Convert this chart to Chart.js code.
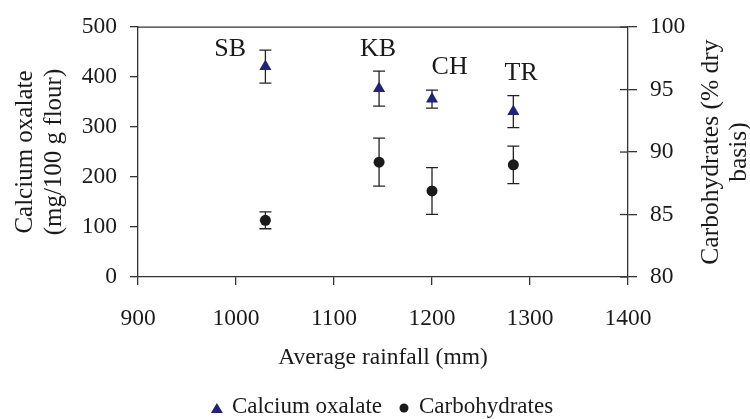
<!DOCTYPE html>
<html><head><meta charset="utf-8">
<script src="https://cdn.jsdelivr.net/npm/chart.js@4.4.1/dist/chart.umd.min.js"></script>
<style>html,body{margin:0;padding:0;background:#fff;}canvas{display:block;}</style>
</head><body>
<canvas id="c" width="750" height="419"></canvas>
<script>
// ---- data ----
const sites = ['SB', 'KB', 'CH', 'TR'];
const rainfall = [1030, 1146, 1200, 1283];
const oxalate = [421, 377, 356, 331];
const oxalateErr = [33, 35, 18, 32];
const carbs = [84.54, 89.19, 86.89, 88.98];
const carbsErr = [0.68, 1.92, 1.87, 1.5];
// site label anchors (data units: rainfall, left axis value)
const labelX = [994, 1145, 1218, 1291];
const labelY = [443, 442, 406, 394];
const seriesNames = ['Calcium oxalate', 'Carbohydrates'];
const xTitle = 'Average rainfall (mm)';
const leftTitle = ['Calcium oxalate', '(mg/100 g flour)'];
const rightTitle = ['Carbohydrates (% dry', 'basis)'];

const FONT = "'Liberation Serif', 'Times New Roman', serif";
const TXT = '#1a1a1a';
const AX = '#333333';
const NAVY = '#22227a';
const BLACK = '#1a1a1a';

const extras = {
  id: 'extras',
  beforeDatasetsDraw(chart) {
    const ctx = chart.ctx, xs = chart.scales.x, yl = chart.scales.y, yr = chart.scales.y1;
    ctx.save();
    ctx.strokeStyle = '#222';
    ctx.lineWidth = 1.3;
    const bar = (px, v, e, sc) => {
      const t = sc.getPixelForValue(v + e), b = sc.getPixelForValue(v - e);
      ctx.beginPath();
      ctx.moveTo(px, t); ctx.lineTo(px, b);
      ctx.moveTo(px - 6, t); ctx.lineTo(px + 6, t);
      ctx.moveTo(px - 6, b); ctx.lineTo(px + 6, b);
      ctx.stroke();
    };
    rainfall.forEach((r, i) => {
      const px = xs.getPixelForValue(r);
      bar(px, oxalate[i], oxalateErr[i], yl);
      bar(px, carbs[i], carbsErr[i], yr);
    });
    ctx.restore();
  },
  afterDraw(chart) {
    const ctx = chart.ctx, a = chart.chartArea, xs = chart.scales.x, yl = chart.scales.y, yr = chart.scales.y1;
    ctx.save();
    // top frame line
    ctx.strokeStyle = AX; ctx.lineWidth = 1.3;
    ctx.beginPath(); ctx.moveTo(a.left, a.top); ctx.lineTo(a.right, a.top); ctx.stroke();
    // inner ticks on right axis
    yr.ticks.forEach(t => {
      const py = yr.getPixelForValue(t.value);
      ctx.beginPath(); ctx.moveTo(a.right - 8, py); ctx.lineTo(a.right, py); ctx.stroke();
    });
    // site labels
    ctx.fillStyle = TXT;
    ctx.font = "26px " + FONT;
    ctx.textAlign = 'center'; ctx.textBaseline = 'alphabetic';
    sites.forEach((s, i) => {
      ctx.fillText(s, xs.getPixelForValue(labelX[i]), yl.getPixelForValue(labelY[i]));
    });
    // right axis title (reads bottom to top)
    ctx.font = "25.5px " + FONT;
    ctx.textBaseline = 'middle';
    const cy = (a.top + a.bottom) / 2;
    ctx.save();
    ctx.translate(711, cy);
    ctx.rotate(-Math.PI / 2);
    rightTitle.forEach((l, i) => ctx.fillText(l, 0, i * 28));
    ctx.restore();
    // legend
    ctx.font = "23px " + FONT;
    ctx.textAlign = 'left';
    const w1 = ctx.measureText(seriesNames[0]).width, w2 = ctx.measureText(seriesNames[1]).width;
    const gapM = 15, gapItem = 22;
    const total = 6 + gapM + w1 + gapItem + gapM + w2 + 6;
    let x = (a.left + a.right) / 2 - total / 2 + 8;
    const my = 409, ty = 407;
    ctx.fillStyle = NAVY;
    ctx.beginPath();
    ctx.moveTo(x, my - 6); ctx.lineTo(x + 6, my + 4); ctx.lineTo(x - 6, my + 4); ctx.closePath(); ctx.fill();
    ctx.fillStyle = TXT;
    ctx.fillText(seriesNames[0], x + gapM, ty);
    x = x + gapM + w1 + gapItem;
    ctx.fillStyle = BLACK;
    ctx.beginPath(); ctx.arc(x, my - 1, 4.5, 0, Math.PI * 2); ctx.fill();
    ctx.fillStyle = TXT;
    ctx.fillText(seriesNames[1], x + gapM, ty);
    ctx.restore();
  }
};

new Chart(document.getElementById('c'), {
  type: 'scatter',
  data: {
    datasets: [
      {
        label: seriesNames[0],
        data: rainfall.map((r, i) => ({ x: r, y: oxalate[i] })),
        yAxisID: 'y',
        pointStyle: 'triangle',
        pointRadius: 7,
        backgroundColor: NAVY,
        borderColor: NAVY,
        borderWidth: 0
      },
      {
        label: seriesNames[1],
        data: rainfall.map((r, i) => ({ x: r, y: carbs[i] })),
        yAxisID: 'y1',
        pointStyle: 'circle',
        pointRadius: 5.5,
        backgroundColor: BLACK,
        borderColor: BLACK,
        borderWidth: 0
      }
    ]
  },
  options: {
    responsive: false,
    animation: false,
    devicePixelRatio: 1,
    layout: { padding: { top: 23, left: 0, right: 0, bottom: 0 } },
    plugins: { legend: { display: false }, tooltip: { enabled: false } },
    scales: {
      x: {
        type: 'linear', position: 'bottom', min: 900, max: 1400,
        ticks: { stepSize: 100, color: TXT, font: { family: FONT, size: 23.5 }, padding: 20, maxRotation: 0, callback: v => String(v) },
        grid: { drawOnChartArea: false, drawTicks: true, tickLength: 8, color: AX, lineWidth: 1.3 },
        border: { color: AX, width: 1.3 },
        title: { display: true, text: xTitle, color: TXT, font: { family: FONT, size: 23.5, lineHeight: 1.2 }, padding: { top: 0, bottom: 47 } },
        afterFit: s => { s.height = 142; }
      },
      y: {
        type: 'linear', position: 'left', min: 0, max: 500,
        ticks: { stepSize: 100, color: TXT, font: { family: FONT, size: 23.5 }, padding: 13 },
        grid: { drawOnChartArea: false, drawTicks: true, tickLength: 8, color: AX, lineWidth: 1.3 },
        border: { color: AX, width: 1.3 },
        title: { display: true, text: leftTitle, color: TXT, font: { family: FONT, size: 25, lineHeight: '29px' }, padding: { top: 10.5, bottom: 0 } },
        afterFit: s => { s.width = 138; }
      },
      y1: {
        type: 'linear', position: 'right', min: 80, max: 100,
        ticks: { stepSize: 5, color: TXT, font: { family: FONT, size: 23.5 }, padding: 13 },
        grid: { drawOnChartArea: false, drawTicks: true, tickLength: 9, color: AX, lineWidth: 1.3 },
        border: { color: AX, width: 1.3 },
        title: { display: false },
        afterFit: s => { s.width = 122; }
      }
    }
  },
  plugins: [extras]
});
</script>
</body></html>
